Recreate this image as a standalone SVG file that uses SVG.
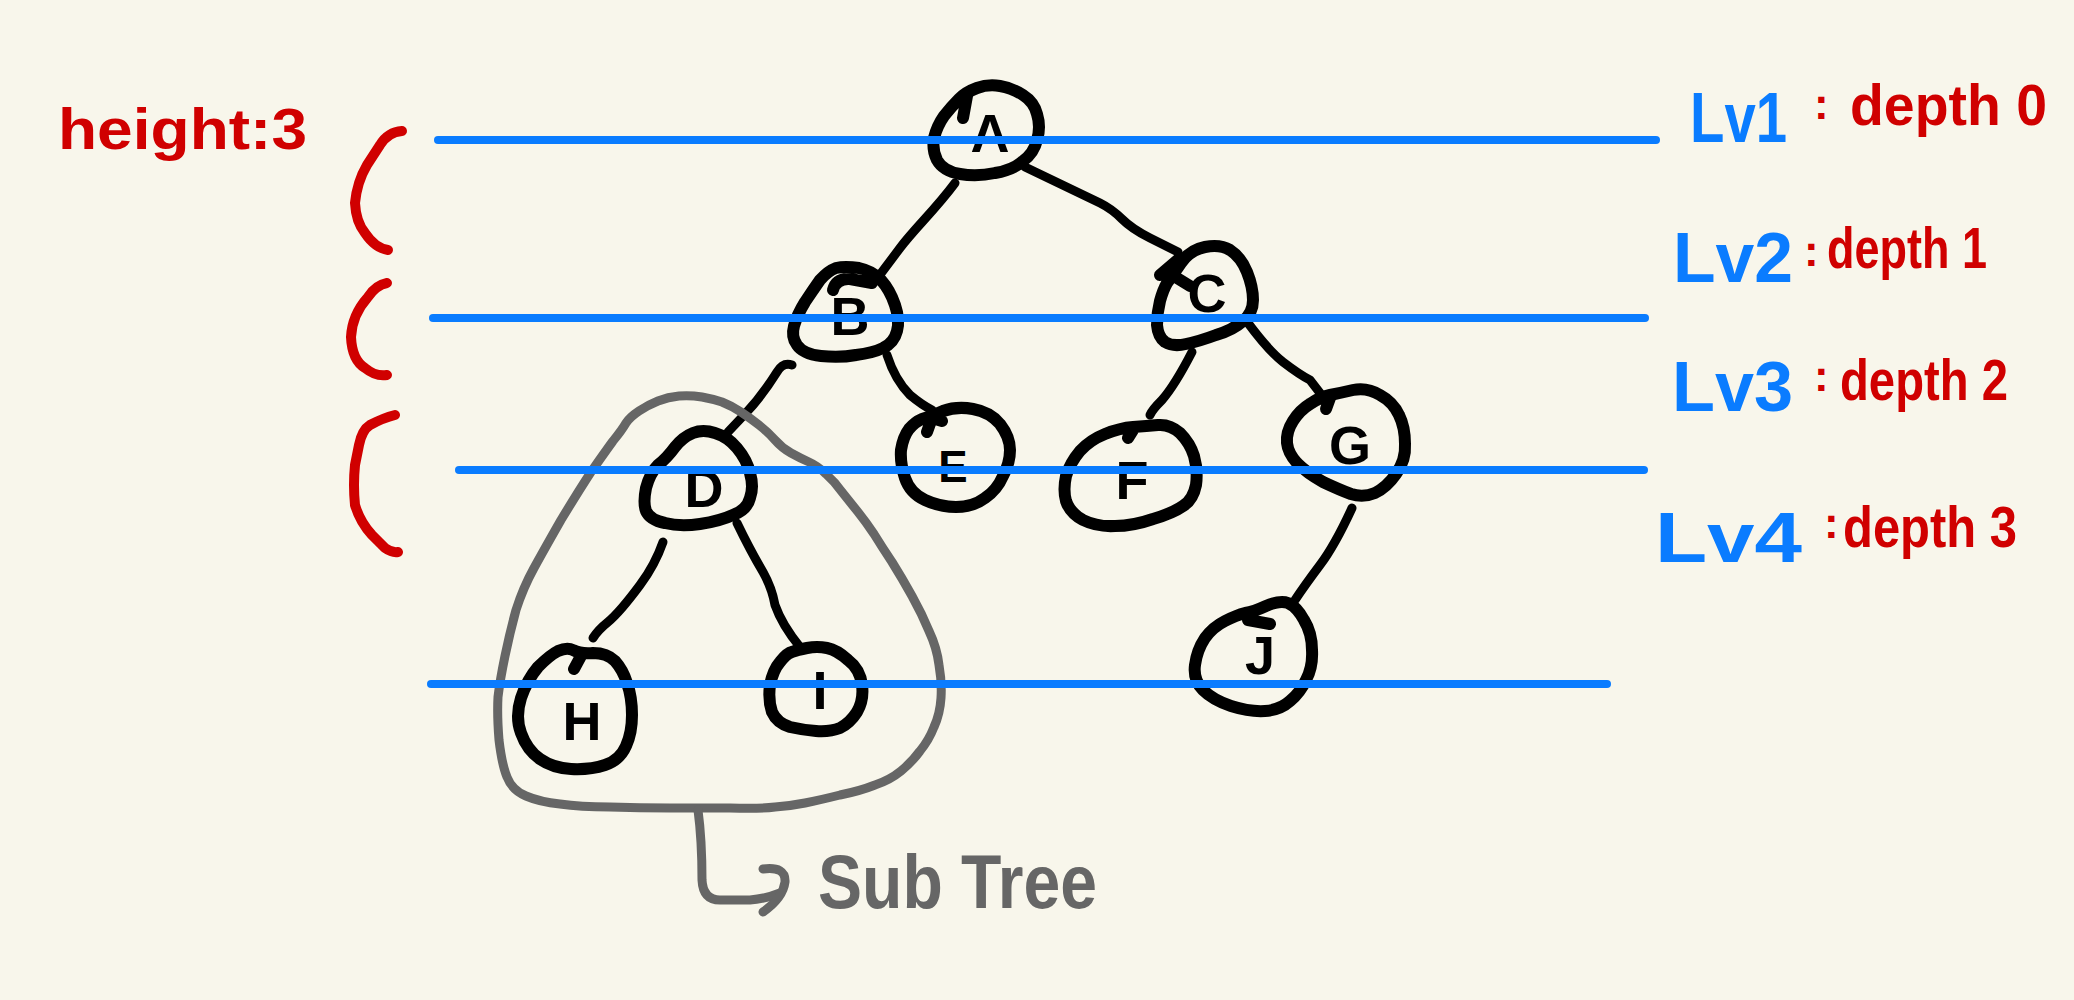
<svg xmlns="http://www.w3.org/2000/svg" width="2074" height="1000" viewBox="0 0 2074 1000">
<style>
.bg{fill:#F8F6EB}
.ink{fill:none;stroke:#000;stroke-width:12;stroke-linecap:round;stroke-linejoin:round}
.edge{fill:none;stroke:#000;stroke-width:9;stroke-linecap:round;stroke-linejoin:round}
.lbl{font-family:"Liberation Sans",Arial,sans-serif;font-weight:bold;font-size:54px;fill:#000;text-anchor:middle}
.level{stroke:#0A7CFF;stroke-width:8;stroke-linecap:round}
.blue{font-family:"Liberation Sans",Arial,sans-serif;font-weight:bold;font-size:70px;fill:#0A7CFF}
.red{font-family:"Liberation Sans",Arial,sans-serif;font-weight:bold;font-size:58px;fill:#D00000}
.colon{font-family:"Liberation Sans",Arial,sans-serif;font-weight:bold;font-size:44px;fill:#D00000}
.brace{fill:none;stroke:#D00000;stroke-width:10;stroke-linecap:round;stroke-linejoin:round}
.gray{fill:none;stroke:#666;stroke-width:9;stroke-linecap:round;stroke-linejoin:round}
.graytxt{font-family:"Liberation Sans",Arial,sans-serif;font-weight:bold;font-size:76px;fill:#666}
</style>
<rect class="bg" x="0" y="0" width="2074" height="1000"/>

<g id="connectors">
<path class="edge" d="M955,183 C935,210 915,228 900,248 S882,272 876,280"/>
<path class="edge" d="M1025,167 L1100,203 Q1112,209 1122,219 Q1132,229 1150,238 L1178,252"/>
<path class="edge" d="M1192,352 Q1175,385 1162,400 Q1152,410 1150,415"/>
<path class="edge" d="M1248,323 Q1268,350 1283,362 Q1300,375 1310,380 L1320,393"/>
<path class="edge" d="M1352,508 Q1335,545 1320,565 Q1305,585 1295,600"/>
<path class="edge" d="M792,365 Q783,362 777,372 Q762,396 745,414 L728,432"/>
<path class="edge" d="M887,355 Q895,380 910,395 Q922,405 932,410"/>
<path class="edge" d="M663,542 Q655,565 640,585 Q620,612 608,622 Q598,630 593,638"/>
<path class="edge" d="M737,523 Q750,550 763,572 Q772,588 775,605 Q782,625 800,647"/>
</g>

<g id="node-A">
<path class="ink" d="M959,99 Q966,92 977,88 Q988,84 1000,86 Q1012,88 1023,95 Q1034,102 1037,114 Q1041,127 1037,140 Q1034,153 1023,161 Q1013,170 995,173 Q977,177 960,174 Q943,171 937,160 Q932,150 934,138 Q937,126 944,116 Q952,106 959,99 Z M963,118 L967,96"/>
<text class="lbl" x="990" y="152">A</text>
</g>
<g id="node-B">
<path class="ink" d="M836,268 Q845,266 859,268 Q873,271 881,280 Q890,290 895,305 Q900,320 897,331 Q894,343 883,348 Q873,353 856,355 Q840,358 821,356 Q803,354 797,345 Q791,337 794,326 Q797,315 805,302 Q813,290 820,280 Q828,271 836,268 Z M833,290 Q836,278 850,279 L872,283"/>
<text class="lbl" x="850" y="335">B</text>
</g>
<g id="node-C">
<path class="ink" d="M1181,263 Q1190,250 1205,247 Q1220,244 1230,250 Q1241,257 1247,272 Q1253,287 1253,300 Q1253,313 1243,321 Q1233,330 1216,335 Q1200,341 1186,344 Q1173,347 1165,342 Q1158,337 1157,325 Q1157,313 1160,301 Q1163,290 1167,283 Q1172,276 1181,263 Z M1160,275 L1180,258 M1177,278 L1190,286"/>
<text class="lbl" x="1207" y="312">C</text>
</g>
<g id="node-D">
<path class="ink" d="M675,447 Q683,437 693,433 Q703,429 715,433 Q728,437 737,448 Q747,460 750,473 Q754,487 750,498 Q747,510 733,515 Q720,521 700,524 Q680,527 665,523 Q650,520 646,511 Q643,503 646,488 Q650,473 658,465 Q667,458 675,447 Z"/>
<text class="lbl" x="704" y="507">D</text>
</g>
<g id="node-E">
<path class="ink" d="M922,419 Q929,417 943,411 Q957,406 973,409 Q990,412 1000,424 Q1010,437 1010,450 Q1010,463 1003,476 Q997,490 985,498 Q973,507 956,507 Q940,507 925,500 Q910,493 905,478 Q900,463 901,450 Q903,437 909,429 Q915,422 922,419 Z M927,432 L932,418 L942,421"/>
<text class="lbl" x="953" y="482" style="font-size:44px">E</text>
</g>
<g id="node-F">
<path class="ink" d="M1133,427 Q1147,426 1158,425 Q1170,424 1180,433 Q1190,443 1194,456 Q1198,470 1196,485 Q1193,500 1183,506 Q1173,513 1153,519 Q1133,526 1115,526 Q1097,527 1083,520 Q1070,513 1066,501 Q1063,490 1066,476 Q1070,463 1080,451 Q1090,440 1105,434 Q1120,428 1133,427 Z M1128,438 L1133,430"/>
<text class="lbl" x="1132" y="499">F</text>
</g>
<g id="node-G">
<path class="ink" d="M1330,395 Q1340,393 1353,390 Q1367,387 1380,395 Q1393,402 1399,415 Q1405,427 1405,444 Q1406,460 1396,474 Q1387,487 1375,493 Q1363,498 1351,494 Q1340,490 1323,482 Q1307,473 1297,463 Q1288,453 1287,443 Q1286,432 1293,421 Q1300,410 1310,404 Q1320,397 1330,395 Z M1326,409 L1330,398"/>
<text class="lbl" x="1350" y="464">G</text>
</g>
<g id="node-H">
<path class="ink" d="M573,650 Q580,654 593,653 Q607,653 615,661 Q623,670 627,683 Q632,697 632,715 Q632,733 626,746 Q620,760 605,765 Q590,770 571,769 Q553,768 540,759 Q527,750 521,733 Q515,717 521,698 Q527,680 538,667 Q550,655 558,651 Q567,647 573,650 Z M574,669 L581,656"/>
<text class="lbl" x="582" y="740">H</text>
</g>
<g id="node-I">
<path class="ink" d="M807,648 Q817,646 827,648 Q837,650 848,660 Q860,669 862,685 Q864,700 857,712 Q850,723 840,728 Q830,732 816,731 Q803,730 790,727 Q777,723 772,712 Q768,700 770,685 Q773,670 780,662 Q787,653 792,652 Q797,650 807,648 Z"/>
<text class="lbl" x="820" y="709">I</text>
</g>
<g id="node-J">
<path class="ink" d="M1245,613 Q1253,612 1266,606 Q1280,600 1288,603 Q1297,607 1304,620 Q1312,633 1312,650 Q1313,667 1306,680 Q1300,693 1290,701 Q1280,710 1265,711 Q1250,712 1231,706 Q1213,700 1203,690 Q1193,680 1195,665 Q1197,650 1205,638 Q1213,627 1225,621 Q1237,615 1245,613 Z M1248,620 L1270,624"/>
<text class="lbl" x="1260" y="674">J</text>
</g>

<g id="subtree">
<path class="gray" d="M626,423 Q630,417 639,411 Q648,405 658,401 Q668,397 679,396 Q690,395 702,397 Q713,399 722,402 Q732,406 741,412 Q750,418 759,425 Q768,432 775,440 Q782,448 791,453 Q800,458 809,462 Q818,466 826,474 Q835,482 842,492 Q850,502 858,512 Q866,522 874,534 Q882,547 892,562 Q902,578 912,596 Q922,614 929,631 Q937,648 939,665 Q942,682 941,698 Q940,714 934,727 Q929,740 920,751 Q912,762 901,771 Q890,780 875,785 Q860,791 840,795 Q820,800 805,803 Q790,806 775,807 Q760,809 730,808 Q700,808 670,808 Q640,808 610,807 Q580,807 560,804 Q540,802 526,796 Q512,790 507,777 Q502,765 499,740 Q497,715 498,697 Q500,680 505,656 Q510,632 516,610 Q523,588 534,568 Q545,548 561,520 Q578,492 591,472 Q605,452 613,441 Q622,430 626,423 Z"/>
<path class="gray" d="M698,810 Q702,840 702,880 Q703,900 720,900 L750,900 Q765,899 780,893"/>
<path class="gray" d="M763,869 Q786,866 785,882 Q783,898 763,912"/>
<text class="graytxt" x="818" y="908" textLength="279" lengthAdjust="spacingAndGlyphs">Sub Tree</text>
</g>

<g id="levels">
<line class="level" x1="438" y1="140" x2="1656" y2="140"/>
<line class="level" x1="433" y1="318" x2="1645" y2="318"/>
<line class="level" x1="459" y1="470" x2="1644" y2="470"/>
<line class="level" x1="431" y1="684" x2="1607" y2="684"/>
</g>

<g id="height">
<text class="red" x="58" y="149" textLength="249" lengthAdjust="spacingAndGlyphs">height:3</text>
<path class="brace" d="M402,131 Q388,132 380,145 L367,165 Q357,182 355,203 Q356,222 365,233 Q375,248 388,250"/>
<path class="brace" d="M387,283 Q376,285 368,297 Q352,315 351,337 Q352,360 365,368 Q376,377 387,375"/>
<path class="brace" d="M395,415 Q383,418 370,425 Q362,430 359,445 L355,465 Q353,485 355,505 Q360,522 372,535 L385,548 Q392,553 398,552"/>
</g>

<g id="level-labels">
<text class="blue" x="1690" y="142" textLength="97" lengthAdjust="spacingAndGlyphs">Lv1</text>
<text class="colon" x="1814" y="119">:</text>
<text class="red" x="1850" y="125" textLength="197" lengthAdjust="spacingAndGlyphs">depth 0</text>

<text class="blue" x="1673" y="282" textLength="120" lengthAdjust="spacingAndGlyphs">Lv2</text>
<text class="colon" x="1804" y="266">:</text>
<text class="red" x="1827" y="268" textLength="160" lengthAdjust="spacingAndGlyphs">depth 1</text>

<text class="blue" x="1672" y="411" textLength="121" lengthAdjust="spacingAndGlyphs">Lv3</text>
<text class="colon" x="1814" y="391">:</text>
<text class="red" x="1840" y="400" textLength="168" lengthAdjust="spacingAndGlyphs">depth 2</text>

<text class="blue" x="1655" y="562" textLength="147" lengthAdjust="spacingAndGlyphs">Lv4</text>
<text class="colon" x="1824" y="538">:</text>
<text class="red" x="1843" y="547" textLength="174" lengthAdjust="spacingAndGlyphs">depth 3</text>
</g>
</svg>
